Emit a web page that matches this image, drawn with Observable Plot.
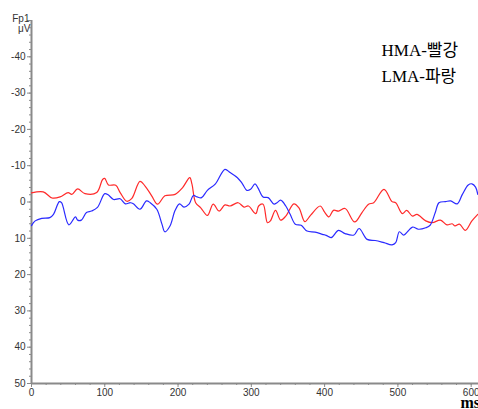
<!DOCTYPE html>
<html><head><meta charset="utf-8">
<script src="https://cdn.jsdelivr.net/npm/d3@7"></script>
<script src="https://cdn.jsdelivr.net/npm/@observablehq/plot@0.6"></script>
<style>body{margin:0;background:#fff;overflow:hidden}</style>
</head><body><div id="chart"></div>
<script>
// HMA (red) – time (ms) and amplitude (µV)
const hmaMs = [0,16,28,39,50,55,63,73,89,97,100,105,115,121,130,137,148,155,164,172,182,196,206,216,219,224,231,240,248,256,264,271,282,290,296,306,310,316,322,326,333,340,347,358,365,373,381,394,400,406,412,419,428,441,451,460,467,481,492,497,506,512,520,526,538,547,558,567,574,578,584,592,601,609];
const hmaUv = [-2.5,-2.8,-1.1,-1.4,-2.6,-2.1,-3.6,-2.3,-2.6,-6.2,-6.5,-4.7,-4.6,-2.6,-0.2,-1.0,-5.7,-4.4,-1.7,0.6,-1.7,-2.1,-3.9,-6.7,-4.9,0.2,1.6,3.7,0.6,2.5,0.8,1.1,0.2,1.4,1.1,3.2,1.1,0.6,5.7,5.2,2.3,5.0,3.9,0.5,1.6,5.4,3.6,1.1,2.8,4.1,2.3,2.5,1.8,5.5,2.9,0.6,0.2,-3.5,-0.1,0.2,3.2,2.3,3.9,3.4,5.2,5.7,5.0,6.3,6.0,6.6,6.1,7.8,5.2,3.4];
// LMA (blue)
const lmaMs = [0,5,14,25,30,38,41,51,60,63,68,75,82,90,100,105,112,121,128,135,139,148,157,162,171,178,182,189,196,202,208,215,221,226,232,240,251,264,271,281,287,294,299,305,309,316,323,331,335,340,347,353,360,368,376,387,397,402,409,419,428,440,447,458,469,481,492,497,502,508,514,520,528,538,544,551,556,565,572,581,588,596,601,606,609];
const lmaUv = [6.5,5.2,4.5,4.3,3.4,-0.1,0.2,6.3,4.1,5.0,5.0,2.9,2.5,1.5,-2.3,-1.9,-0.7,-0.9,0.5,0.2,0.5,2.0,-0.3,0.2,2.0,6.1,8.2,6.6,2.3,0.5,1.4,0.6,-1.8,-1.4,-1.2,-3.2,-5.0,-9.0,-8.1,-6.7,-5.3,-3.2,-3.5,-5.0,-3.9,-1.4,-1.2,0.6,0.2,-0.5,1.1,3.4,6.1,6.4,8.0,8.3,8.9,9.2,9.8,7.8,8.7,9.1,7.3,10.3,10.6,11.2,11.8,11.2,8.2,9.1,8.0,6.9,7.5,7.1,6.4,2.9,0.2,-0.1,-0.3,0.5,-2.1,-4.7,-5.0,-4.1,-2.1];

const majorY = d3.range(-50, 51, 10);
const minorY = d3.range(-50, 51, 2);
const majorX = d3.range(0, 601, 100);
const minorX = d3.range(0, 611, 20);
const legendLabels = ["HMA-빨강", "LMA-파랑"];

const hma = hmaMs.map((t, i) => ({t, v: hmaUv[i]}));
const lma = lmaMs.map((t, i) => ({t, v: lmaUv[i]}));

const axisColor = "#8a8a8a";
const labelFont = "'Liberation Sans', Arial, sans-serif";
const serifFont = "'Liberation Serif', 'Noto Sans CJK KR', serif";

const chart = Plot.plot({
  width: 478,
  height: 409,
  marginLeft: 31,
  marginRight: 0,
  marginTop: 20,
  marginBottom: 26,
  style: {fontFamily: labelFont, fontSize: "10px", color: "#333", background: "#fff"},
  x: {domain: [0, 610], label: null},
  y: {domain: [-50, 50], reverse: true, label: null},
  marks: [
    Plot.axisY({ticks: minorY, tickSize: 2, text: null, stroke: axisColor, strokeWidth: 1, label: null}),
    Plot.axisY({ticks: majorY, tickSize: 4, tickPadding: 2, stroke: axisColor, fill: "#333", label: null,
      tickFormat: d => d === -50 ? "" : String(d)}),
    Plot.axisX({ticks: minorX, tickSize: 2, text: null, stroke: axisColor, label: null}),
    Plot.axisX({ticks: majorX, tickSize: 4, tickPadding: 1, stroke: axisColor, fill: "#333", label: null, tickFormat: d => String(d)}),
    Plot.ruleX([0], {stroke: axisColor, strokeWidth: 2}),
    Plot.ruleY([50], {stroke: axisColor, strokeWidth: 2}),
    Plot.line(hma, {x: "t", y: "v", stroke: "#ff2a2a", strokeWidth: 1.2, curve: "catmull-rom"}),
    Plot.line(lma, {x: "t", y: "v", stroke: "#2a2aff", strokeWidth: 1.2, curve: "catmull-rom"}),
    Plot.text(["Fp1"], {frameAnchor: "top-left", dx: -2, dy: -6, textAnchor: "end", fill: "#333", fontSize: 10}),
    Plot.text(["μV"], {frameAnchor: "top-left", dx: -1, dy: 4, textAnchor: "end", fill: "#333", fontSize: 10}),
    Plot.text([legendLabels[0]], {frameAnchor: "top-right", dx: -97, dy: 23, textAnchor: "start", fill: "#000", fontSize: 17, fontFamily: serifFont}),
    Plot.text([legendLabels[1]], {frameAnchor: "top-right", dx: -97, dy: 49, textAnchor: "start", fill: "#000", fontSize: 17, fontFamily: serifFont}),
    Plot.text(["ms"], {frameAnchor: "bottom-right", dx: -18, dy: 24, lineAnchor: "bottom", textAnchor: "start", fill: "#000", fontSize: 16, fontWeight: "bold", fontFamily: "'Liberation Serif', serif"})
  ]
});
document.getElementById("chart").appendChild(chart);
</script>
</body></html>
